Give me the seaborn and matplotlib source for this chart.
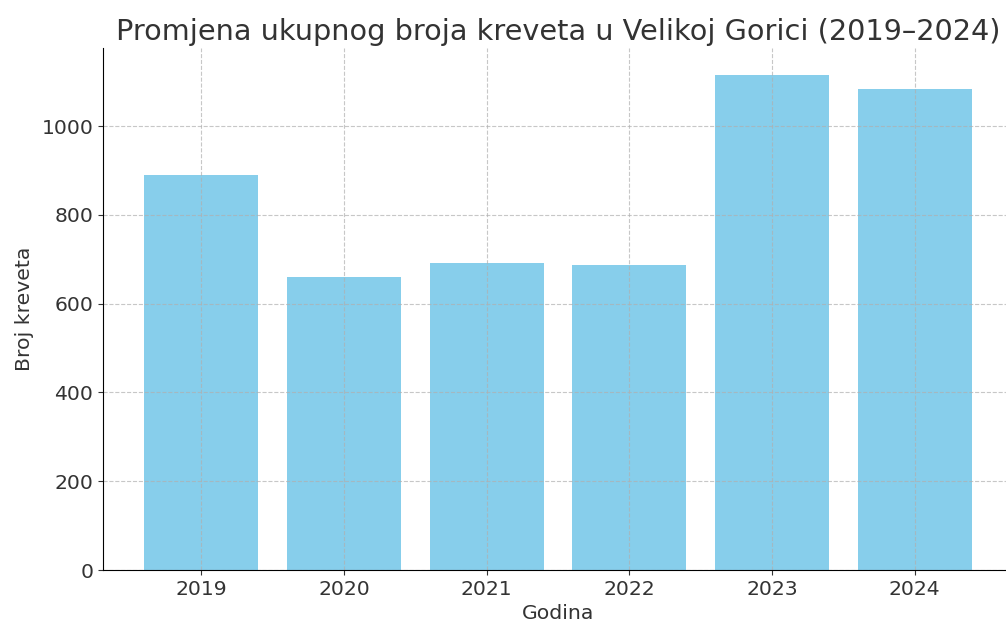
import matplotlib
matplotlib.use("Agg")
import matplotlib.pyplot as plt
import seaborn as sns
import pandas as pd

years = ["2019", "2020", "2021", "2022", "2023", "2024"]
beds = [890, 661, 691, 688, 1115, 1083]

title = "Promjena ukupnog broja kreveta u Velikoj Gorici (2019–2024)"
xlabel = "Godina"
ylabel = "Broj kreveta"

plt.rcParams["font.family"] = ["DejaVu Sans"]
plt.rcParams["text.color"] = "#333333"
plt.rcParams["axes.labelcolor"] = "#333333"
plt.rcParams["xtick.color"] = "#333333"
plt.rcParams["ytick.color"] = "#333333"
plt.rcParams["axes.axisbelow"] = "line"

df = pd.DataFrame({"year": years, "beds": beds})

W, H = 1006, 621
fig = plt.figure(figsize=(W / 100, H / 100), dpi=100)
ax = fig.add_axes([103 / W, (H - 570) / H, (1013 - 103) / W, (570 - 48) / H])

sns.barplot(data=df, x="year", y="beds", color="#87CEEB", saturation=1, width=0.8, ax=ax)
ax.set_xlim(-0.69, 5.69)
ax.set_ylim(0, 1176)
ax.grid(True, linestyle="--", color="#b0b0b0", alpha=0.7, linewidth=0.8)
ax.set_yticks([0, 200, 400, 600, 800, 1000])
ax.tick_params(labelsize=14.7)
ax.set_xlabel(xlabel, fontsize=14.7, labelpad=4)
ax.set_ylabel(ylabel, fontsize=14.7, labelpad=5)
ax.set_title(title, fontsize=20.7, pad=6)
ax.spines["top"].set_visible(False)
ax.spines["right"].set_visible(False)

fig.savefig("out.png", dpi=100)
